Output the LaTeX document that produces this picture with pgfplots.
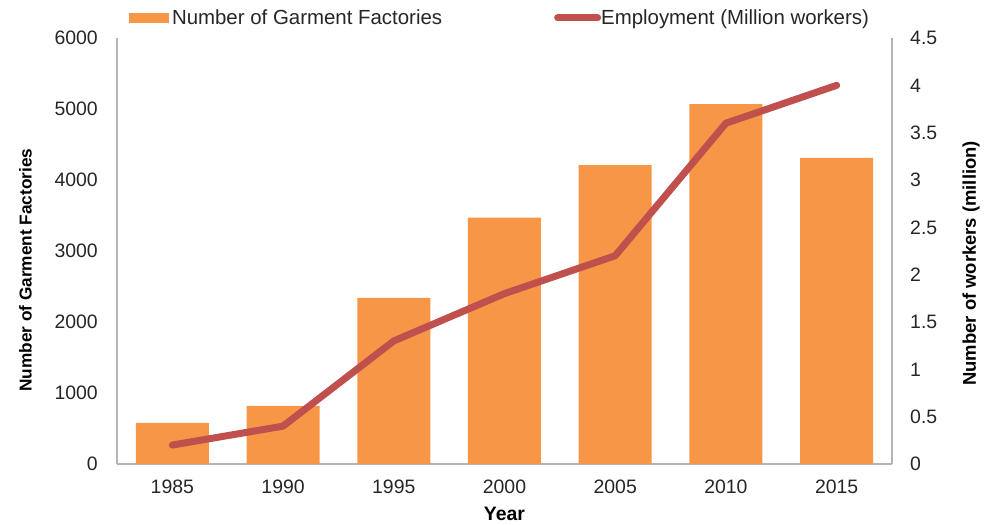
\documentclass[border=0pt]{standalone}
\usepackage{pgfplots}
\pgfplotsset{compat=1.18}
\usepackage{fontspec}
\setmainfont{Liberation Sans}

\definecolor{barorange}{HTML}{F79646}
\definecolor{linered}{HTML}{C0504D}
\definecolor{axgray}{HTML}{B4B4B4}
\definecolor{txt}{HTML}{262626}

\begin{document}
\begin{tikzpicture}
\useasboundingbox (-117bp,-61bp) rectangle (868bp,464bp);
\begin{axis}[
  at={(0,0)}, anchor=south west,
  scale only axis, width=775bp, height=426bp,
  xmin=-0.5, xmax=6.5, ymin=0, ymax=6000,
  xtick={0,...,6},
  xticklabels={1985,1990,1995,2000,2005,2010,2015},
  ytick={0,1000,...,6000},
  axis y line*=left, axis x line*=bottom,
  axis line style={draw=axgray, line width=1.3bp, -},
  major tick length=0pt,
  tick style={draw=none},
  /pgf/number format/assume math mode=true,
  /pgf/number format/1000 sep={},
  scaled y ticks=false,
  ticklabel style={font=\fontsize{19.5}{22}\selectfont, text=txt},
  yticklabel style={anchor=east, inner sep=0pt, xshift=-19bp},
  xticklabel style={anchor=north, inner sep=0pt, yshift=-16bp},
  xlabel={Year},
  xlabel style={font=\bfseries\fontsize{19.5}{22}\selectfont, text=black, inner sep=0pt,
    at={(axis description cs:0.5,-0.1315)}, anchor=base},
  ylabel={Number of Garment Factories},
  ylabel style={font=\bfseries\fontsize{17.3}{20}\selectfont, text=black, inner sep=0pt,
    at={(axis description cs:-0.1097,0.455)}, anchor=south},
  legend columns=2,
  legend cell align=left,
  legend style={at={(axis description cs:0.0155,1.047)}, anchor=west,
    draw=none, fill=none, inner sep=0pt, outer sep=0pt,
    font=\fontsize{20.5}{23}\selectfont, text=txt,
    nodes={inner sep=0pt},
    /tikz/every even column/.append style={column sep=112bp}},
]
\addplot[ybar, bar width=73bp, fill=barorange, draw=none,
  legend image code/.code={\fill[barorange] (0bp,-5bp) rectangle (40bp,5bp); \path (0bp,0bp) -- (43bp,0bp);}]
  coordinates {(0,580) (1,820) (2,2340) (3,3470) (4,4210) (5,5070) (6,4310)};
\addlegendentry{Number of Garment Factories}
\addlegendimage{legend image code/.code={\draw[linered, line width=7bp, line cap=round] (3.5bp,0bp) -- (43.5bp,0bp);}}
\addlegendentry{Employment (Million workers)}
\end{axis}
\begin{axis}[
  at={(0,0)}, anchor=south west,
  scale only axis, width=775bp, height=426bp,
  xmin=-0.5, xmax=6.5, ymin=0, ymax=4.5,
  ytick={0,0.5,...,4.5},
  axis y line*=right, axis x line=none,
  axis line style={draw=axgray, line width=1.3bp, -},
  major tick length=0pt,
  tick style={draw=none},
  /pgf/number format/assume math mode=true,
  ticklabel style={font=\fontsize{19.5}{22}\selectfont, text=txt},
  yticklabel style={anchor=west, inner sep=0pt, xshift=18bp},
  ylabel={Number of workers (million)},
  ylabel style={font=\bfseries\fontsize{18.5}{21}\selectfont, text=black, inner sep=0pt,
    at={(axis description cs:1.1135,0.471)}, anchor=south},
]
\addplot[linered, line width=7bp, line cap=round, line join=round, mark=none]
  coordinates {(0,0.2) (1,0.4) (2,1.3) (3,1.8) (4,2.2) (5,3.6) (6,4.0)};
\end{axis}
\end{tikzpicture}
\end{document}
